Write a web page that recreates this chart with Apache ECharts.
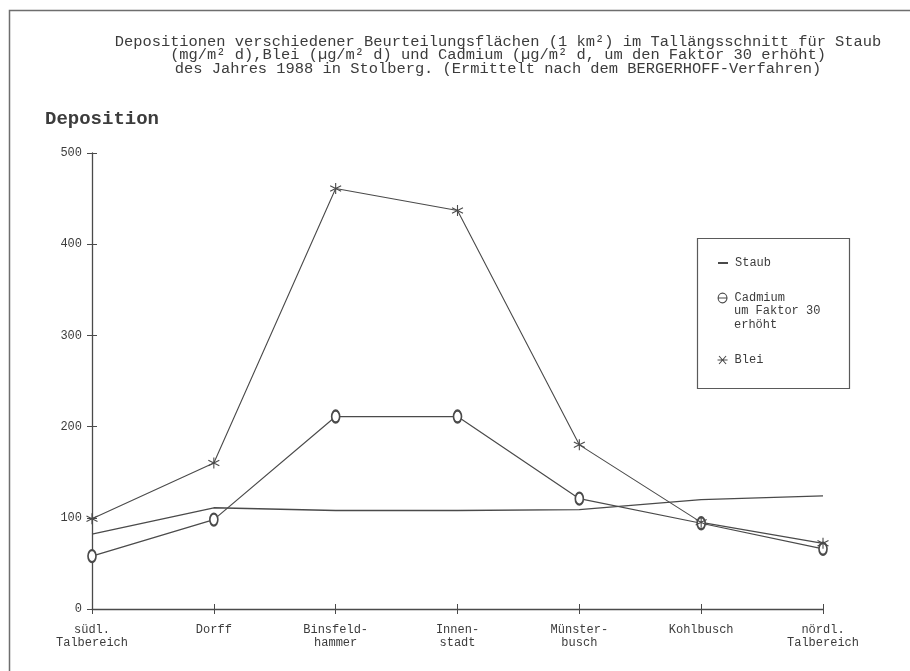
<!DOCTYPE html>
<html>
<head>
<meta charset="utf-8">
<script src="https://cdn.jsdelivr.net/npm/echarts@6/dist/echarts.min.js"></script>
<style>
  html, body { margin: 0; padding: 0; background: #fff; }
  #chart { width: 910px; height: 671px; }
</style>
</head>
<body>
<div id="chart"></div>
<script>
// Sampling points along the valley, south to north
var categories = ['südl.\nTalbereich', 'Dorff', 'Binsfeld-\nhammer', 'Innen-\nstadt', 'Münster-\nbusch', 'Kohlbusch', 'nördl.\nTalbereich'];
// Dust deposition (mg/m² d)
var staub = [82, 111, 108, 108, 109, 120, 124];
// Cadmium deposition (µg/m² d), multiplied by 30
var cadmium = [58, 98, 211, 211, 121, 94, 66];
// Lead deposition (µg/m² d)
var blei = [99, 160, 461, 437, 180, 95, 72];
// Value axis ticks
var yTicks = [0, 100, 200, 300, 400, 500];

var ink = '#3c3c3c';
var lineInk = '#4a4a4a';
var mono = '"Liberation Mono", "DejaVu Sans Mono", monospace';
// six-armed star used for the lead markers
var asterisk = 'path://M5,0L5,10M0.7,2.5L9.3,7.5M9.3,2.5L0.7,7.5';
// legend glyphs: barred ellipse and star with a horizontal arm
var thetaIcon = 'path://M5,0.6A4.4,4.9 0 1,1 4.99,0.6ZM0,5.5L10,5.5';
var starIcon = 'path://M0,5L10,5M1.5,1L8.5,9M8.5,1L1.5,9';

var chart = echarts.init(document.getElementById('chart'), null, { renderer: 'canvas' });

function legendBox(item, top) {
  return {
    data: [item],
    left: 712,
    top: top,
    orient: 'vertical',
    itemWidth: 10,
    itemHeight: 11,
    selectedMode: false,
    textStyle: { fontFamily: mono, fontSize: 12, color: ink, padding: [0, 0, 0, 2] }
  };
}

var option = {
  backgroundColor: '#ffffff',
  animation: false,
  grid: { left: 92, right: 87, top: 153, bottom: 62 },
  legend: [
    legendBox({ name: 'Staub', itemStyle: { color: 'rgba(0,0,0,0)', borderColor: 'rgba(0,0,0,0)', opacity: 0 } }, 252),
    legendBox({ name: 'Cadmium', icon: thetaIcon, itemStyle: { color: '#ffffff', borderColor: lineInk, borderWidth: 1.1 } }, 287),
    legendBox({ name: 'Blei', icon: starIcon, itemStyle: { color: lineInk, borderColor: lineInk, borderWidth: 1.1 } }, 349)
  ],
  xAxis: [
    {
      type: 'category',
      data: categories,
      boundaryGap: false,
      axisLine: { lineStyle: { color: lineInk, width: 1.3 } },
      axisTick: { alignWithLabel: true, length: 5, lineStyle: { color: lineInk } },
      axisLabel: { fontFamily: mono, fontSize: 12, color: ink, margin: 14, lineHeight: 13, interval: 0 },
      splitLine: { show: false }
    },
    {
      type: 'category',
      data: categories,
      boundaryGap: false,
      position: 'bottom',
      axisLine: { show: false },
      axisTick: { inside: true, length: 5, lineStyle: { color: lineInk } },
      axisLabel: { show: false },
      splitLine: { show: false }
    }
  ],
  yAxis: [
    {
      type: 'value',
      min: yTicks[0],
      max: yTicks[yTicks.length - 1],
      interval: 100,
      name: 'Deposition',
      nameLocation: 'end',
      nameGap: 24,
      nameTextStyle: { fontFamily: mono, fontSize: 19, fontWeight: 'bold', color: ink, align: 'center', padding: [0, 0, 0, 20] },
      axisLine: { show: true, lineStyle: { color: lineInk, width: 1.3 } },
      axisTick: { show: true, length: 5, lineStyle: { color: lineInk } },
      axisLabel: { fontFamily: mono, fontSize: 12, color: ink, margin: 10 },
      splitLine: { show: false }
    },
    {
      type: 'value',
      min: yTicks[0],
      max: yTicks[yTicks.length - 1],
      interval: 100,
      position: 'left',
      axisLine: { show: false },
      axisTick: { show: true, inside: true, length: 5, lineStyle: { color: lineInk } },
      axisLabel: { show: false },
      splitLine: { show: false }
    }
  ],
  series: [
    {
      name: 'Staub',
      type: 'line',
      data: staub,
      symbol: 'none',
      lineStyle: { color: lineInk, width: 1.3 },
      itemStyle: { color: lineInk }
    },
    {
      name: 'Cadmium',
      type: 'line',
      data: cadmium,
      symbol: 'emptyCircle',
      symbolSize: [8, 12],
      showAllSymbol: true,
      lineStyle: { color: lineInk, width: 1.2 },
      itemStyle: { color: lineInk, borderColor: lineInk, borderWidth: 1.2 }
    },
    {
      name: 'Blei',
      type: 'line',
      data: blei,
      symbol: asterisk,
      symbolSize: 11,
      showAllSymbol: true,
      lineStyle: { color: lineInk, width: 1.1 },
      itemStyle: { color: lineInk, borderColor: lineInk, borderWidth: 1.1 }
    }
  ],
  graphic: [
    // page frame
    {
      type: 'rect',
      left: 7, top: 8,
      shape: { width: 1000, height: 1000 },
      style: { fill: 'none', stroke: '#6e6e6e', lineWidth: 1.5 },
      silent: true
    },
    // heading
    {
      type: 'text',
      x: 498, y: 35,
      style: {
        text: 'Depositionen verschiedener Beurteilungsflächen (1 km²) im Tallängsschnitt für Staub\n' +
              '(mg/m² d),Blei (µg/m² d) und Cadmium (µg/m² d, um den Faktor 30 erhöht)\n' +
              'des Jahres 1988 in Stolberg. (Ermittelt nach dem BERGERHOFF-Verfahren)',
        fontFamily: mono,
        fontSize: 15.4,
        lineHeight: 13.4,
        fill: ink,
        align: 'center',
        verticalAlign: 'top'
      },
      silent: true
    },
    // legend frame
    {
      type: 'rect',
      left: 695, top: 236,
      shape: { width: 152, height: 150 },
      style: { fill: 'none', stroke: '#5a5a5a', lineWidth: 1.2 },
      silent: true
    },
    // continuation of the cadmium legend entry
    {
      type: 'text',
      x: 734, y: 304,
      style: {
        text: 'um Faktor 30\nerhöht',
        fontFamily: mono,
        fontSize: 12,
        lineHeight: 14,
        fill: ink,
        align: 'left',
        verticalAlign: 'top'
      },
      silent: true
    }
  ]
};

chart.setOption(option);
</script>
</body>
</html>
